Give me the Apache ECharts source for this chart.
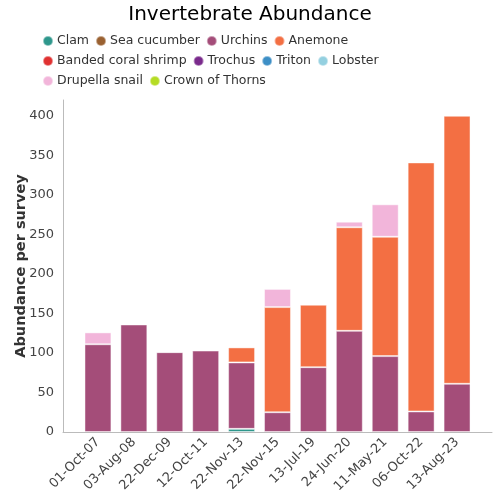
<!DOCTYPE html>
<html>
<head>
<meta charset="utf-8">
<script src="https://cdn.jsdelivr.net/npm/echarts@6/dist/echarts.min.js"></script>
<style>html,body{margin:0;padding:0;background:#fff}#c{width:500px;height:500px}</style>
</head>
<body>
<div id="c"></div>
<script>
var categories = ['01-Oct-07','03-Aug-08','22-Dec-09','12-Oct-11','22-Nov-13','22-Nov-15','13-Jul-19','24-Jun-20','11-May-21','06-Oct-22','13-Aug-23'];
var seriesNames = ['Clam','Sea cucumber','Urchins','Anemone','Banded coral shrimp','Trochus','Triton','Lobster','Drupella snail','Crown of Thorns'];
var clam        = [null,null,null,null,4,null,null,null,null,null,null];
var seaCucumber = [null,null,null,null,null,null,null,null,null,null,null];
var urchins     = [111,136,101,103,84,25,82,128,96,26,61];
var anemone     = [null,null,null,null,19,133,79,131,151,315,339];
var shrimp      = [null,null,null,null,null,null,null,null,null,null,null];
var trochus     = [null,null,null,null,null,null,null,null,null,null,null];
var triton      = [null,null,null,null,null,null,null,null,null,null,null];
var lobster     = [null,null,1,null,null,null,null,null,null,null,null];
var drupella    = [15,null,null,null,null,23,1,7,41,null,null];
var cot         = [null,null,null,null,null,null,null,null,null,null,null];
var yTicks = [0,50,100,150,200,250,300,350,400];

var colors = ['#2e978c','#9a6131','#a44d79','#f36f43','#e03131','#7a2a8c','#3d8fc6','#94d0e0','#f2b5da','#b5dc24'];
var dataList = [clam,seaCucumber,urchins,anemone,shrimp,trochus,triton,lobster,drupella,cot];

var FONT = 'DejaVu Sans';
var series = seriesNames.map(function(n,i){
  return {
    name:n, type:'bar', stack:'total', xAxisIndex:1, yAxisIndex:1,
    data:dataList[i], barWidth:'75%',
    itemStyle:{color:colors[i], borderColor:'rgba(255,255,255,0.45)', borderWidth:1},
    emphasis:{disabled:true}
  };
});

var chart = echarts.init(document.getElementById('c'), null, {renderer:'canvas'});
chart.setOption({
  animation:false,
  backgroundColor:'#fff',
  textStyle:{fontFamily:FONT},
  title:{text:'Invertebrate Abundance', left:'center', top:0,
    textStyle:{fontFamily:FONT, fontSize:20, fontWeight:'normal', color:'#000'}},
  legend:{left:42, top:34, padding:0, width:400, icon:'circle', itemWidth:10, itemHeight:10, itemGap:6,
    data:seriesNames,
    textStyle:{fontFamily:FONT, fontSize:12.5, lineHeight:14, color:'#333', padding:[0,0,0,-1]}},
  grid:[
    {left:63, right:8, top:100, bottom:68, outerBoundsMode:'none', containLabel:false},
    {left:80, right:25, top:100, bottom:68, outerBoundsMode:'none', containLabel:false}
  ],
  xAxis:[
    {type:'value', gridIndex:0, min:0, max:1, axisLine:{show:true, lineStyle:{color:'#bbb'}},
     axisTick:{show:false}, axisLabel:{show:false}, splitLine:{show:false}},
    {type:'category', gridIndex:1, data:categories, axisLine:{show:false}, axisTick:{show:false},
     axisLabel:{rotate:45, interval:0, margin:8, fontFamily:FONT, fontSize:13, color:'#444'}}
  ],
  yAxis:[
    {type:'value', gridIndex:0, min:0, max:420, interval:50,
     axisLine:{show:true, lineStyle:{color:'#bbb'}}, axisTick:{show:false}, splitLine:{show:false},
     axisLabel:{showMaxLabel:false, fontFamily:FONT, fontSize:13, color:'#444', margin:9,
       formatter:function(v){return yTicks.indexOf(v)>=0 ? String(v) : '';}},
     name:'Abundance per survey', nameLocation:'middle', nameGap:34, nameMoveOverlap:false,
     nameTextStyle:{fontFamily:FONT, fontSize:14.5, fontWeight:'bold', color:'#333'}},
    {type:'value', gridIndex:1, min:0, max:420, show:false, splitLine:{show:false}}
  ],
  series:series
});
</script>
</body>
</html>
